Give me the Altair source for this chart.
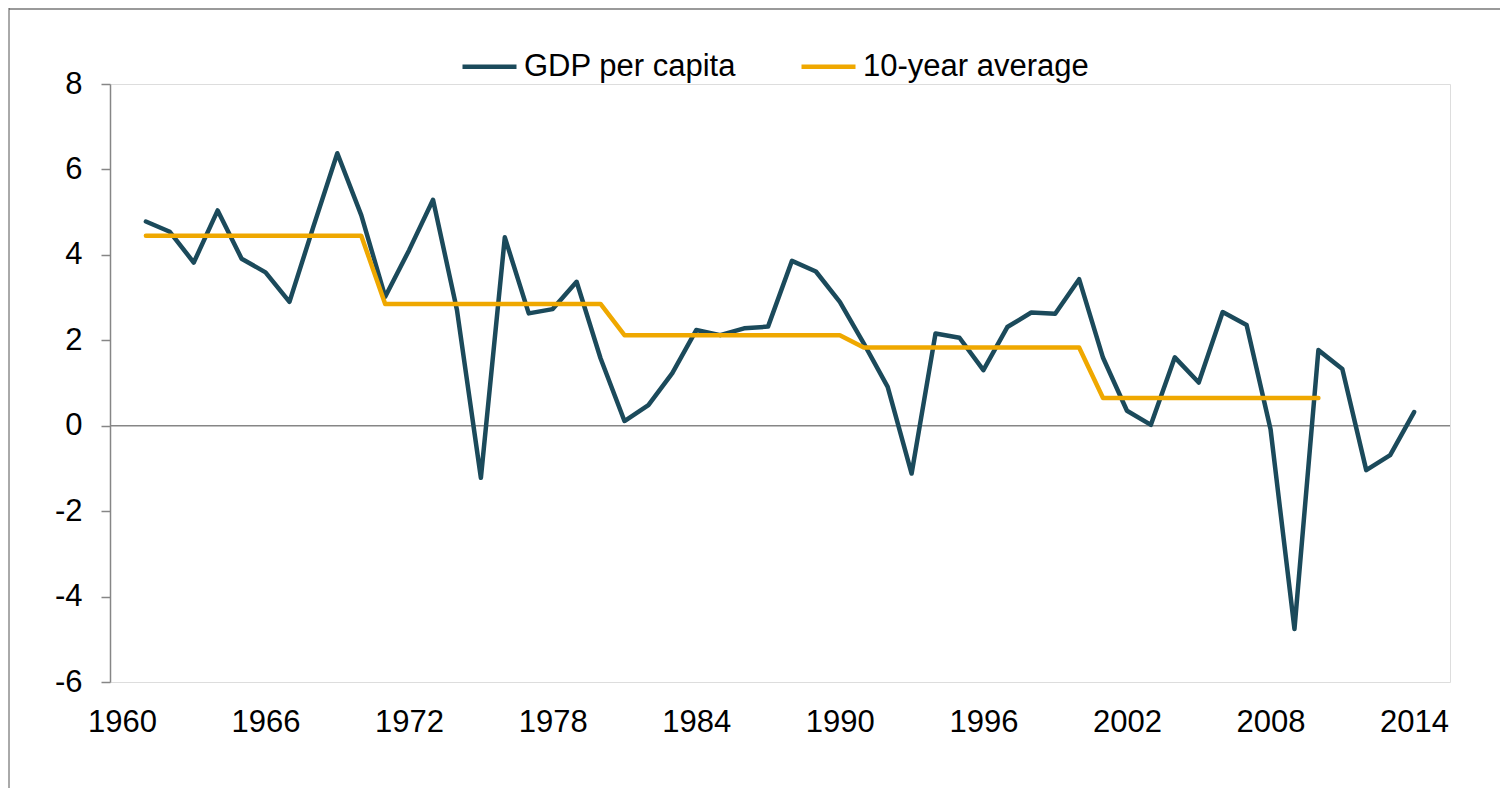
import altair as alt
import pandas as pd

years = list(range(1961, 2015))
gdp = [4.78, 4.54, 3.82, 5.04, 3.91, 3.59, 2.90, 4.66, 6.38, 4.93,
       3.02, 4.11, 5.29, 2.71, -1.22, 4.41, 2.63, 2.73, 3.37, 1.58,
       0.11, 0.48, 1.23, 2.24, 2.12, 2.28, 2.32, 3.86, 3.61, 2.90,
       1.93, 0.91, -1.12, 2.16, 2.06, 1.30, 2.31, 2.65, 2.62, 3.43,
       1.59, 0.35, 0.02, 1.60, 1.01, 2.66, 2.36, -0.08, -4.76, 1.77,
       1.33, -1.04, -0.69, 0.32]

decade_start = [1961, 1971, 1981, 1991, 2001]
decade_avg = [4.45, 2.85, 2.12, 1.83, 0.65]

x_ticks = [1960, 1966, 1972, 1978, 1984, 1990, 1996, 2002, 2008, 2014]
y_ticks = [-6, -4, -2, 0, 2, 4, 6, 8]

S1 = "GDP per capita"
S2 = "10-year average"
TEAL = "#1b4a5b"
GOLD = "#efa800"
FONT = "Liberation Sans"

df_gdp = pd.DataFrame({"year": years, "value": gdp, "series": S1})
avg_rows = []
for start, val in zip(decade_start, decade_avg):
    for y in range(start, start + 10):
        avg_rows.append({"year": y, "value": val, "series": S2})
df_avg = pd.DataFrame(avg_rows)

W, H = 1340, 598

xscale = alt.Scale(domain=[1959.5, 2015.5], nice=False, zero=False)
yscale = alt.Scale(domain=[-6, 8], nice=False)
cscale = alt.Scale(domain=[S1, S2], range=[TEAL, GOLD])

xaxis = alt.Axis(values=x_ticks, format="d", title=None, domain=False, ticks=False,
                 tickSize=0, grid=False, labelPadding=25, labelFontSize=31,
                 labelFont=FONT, labelColor="#000000")
yaxis = alt.Axis(values=y_ticks, title=None, domain=True, domainColor="#868686",
                 domainWidth=1.5, ticks=True, tickColor="#868686", tickWidth=1.5,
                 tickSize=9, grid=False, labelPadding=19, labelFontSize=31,
                 labelFont=FONT, labelColor="#000000",
                 labelExpr="'' + datum.value")

legend = alt.Legend(title=None, orient="none", direction="horizontal",
                    legendX=350, legendY=-47, symbolType="stroke",
                    symbolSize=2916, symbolStrokeWidth=4.5, labelFontSize=31,
                    labelFont=FONT, labelColor="#000000", labelOffset=5,
                    labelLimit=0, columnPadding=56, padding=0)

zero = alt.Chart(pd.DataFrame({"v": [0]})).mark_rule(
    color="#868686", strokeWidth=1.5
).encode(y=alt.Y("v:Q", scale=yscale, axis=yaxis))

line_gdp = alt.Chart(df_gdp).mark_line(
    strokeWidth=4.5, strokeJoin="round", strokeCap="round"
).encode(
    x=alt.X("year:Q", scale=xscale, axis=xaxis),
    y=alt.Y("value:Q", scale=yscale, axis=yaxis),
    color=alt.Color("series:N", scale=cscale, legend=legend),
)

line_avg = alt.Chart(df_avg).mark_line(
    strokeWidth=4.5, strokeJoin="round", strokeCap="round"
).encode(
    x=alt.X("year:Q", scale=xscale, axis=xaxis),
    y=alt.Y("value:Q", scale=yscale, axis=yaxis),
    color=alt.Color("series:N", scale=cscale, legend=legend),
)

frame_top = alt.Chart(pd.DataFrame({"a": [0]})).mark_rule(
    color="#9a9a9a", strokeWidth=2, clip=False
).encode(x=alt.value(-101), x2=alt.value(W + 50), y=alt.value(-75))
frame_left = alt.Chart(pd.DataFrame({"a": [0]})).mark_rule(
    color="#555555", strokeWidth=1, clip=False
).encode(x=alt.value(-101), y=alt.value(-76), y2=alt.value(H + 106))

chart = alt.layer(frame_top, frame_left, zero, line_gdp, line_avg).properties(
    width=W, height=H,
    autosize=alt.AutoSizeParams(type="none"),
    padding={"left": 102, "top": 76, "right": 50, "bottom": 106},
).configure_view(stroke=None).configure(background="#ffffff")

chart.save("out.html", embed_options={"renderer": "svg", "actions": False})
